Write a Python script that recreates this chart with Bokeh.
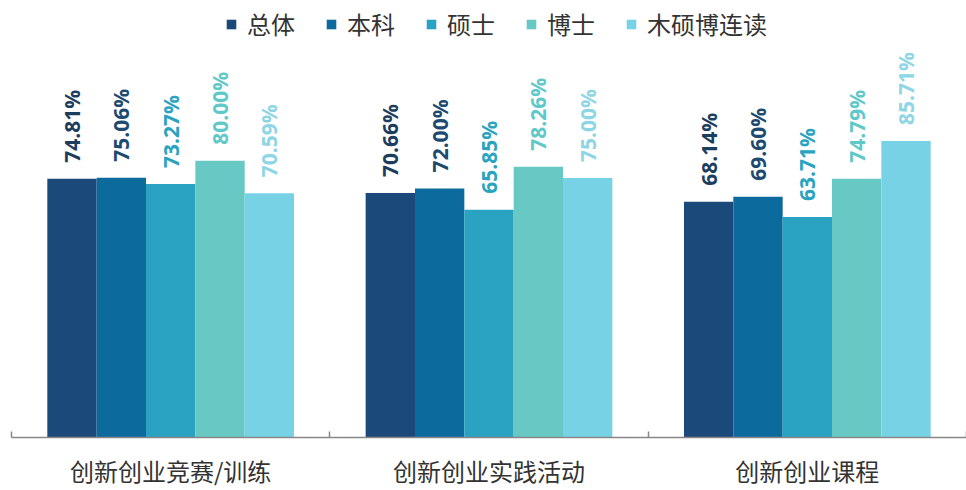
import math
from bokeh.plotting import figure
from bokeh.models import (ColumnDataSource, Range1d, FixedTicker,
                          Legend, LegendItem)
from bokeh.transform import dodge
from bokeh.core.properties import value
from bokeh.embed import file_html
from bokeh.resources import INLINE

categories = ["创新创业竞赛/训练", "创新创业实践活动", "创新创业课程"]
series_names = ["总体", "本科", "硕士", "博士", "木硕博连读"]
v_total = [74.81, 70.66, 68.14]
v_ben = [75.06, 72.00, 69.60]
v_shuo = [73.27, 65.85, 63.71]
v_bo = [80.00, 78.26, 74.79]
v_lian = [70.59, 75.00, 85.71]
series_values = [v_total, v_ben, v_shuo, v_bo, v_lian]

bar_colors = ["#1b4a7a", "#0c6a9c", "#2aa3c2", "#68c9c4", "#78d2e6"]
label_colors = ["#1c3d5e", "#1c4a70", "#2aa3c0", "#5fc8c8", "#8ed6e6"]

ncat = len(categories)
centers = [i + 0.5 for i in range(ncat)]

p = figure(width=966, height=490, x_range=Range1d(0, ncat), y_range=Range1d(0, 126.3),
           y_axis_type=None, output_backend="svg",
           toolbar_location=None, min_border_left=11, min_border_right=0,
           min_border_top=0, min_border_bottom=0, outline_line_color=None)
p.xgrid.grid_line_color = None
p.ygrid.grid_line_color = None

ax = p.xaxis[0]
ax.ticker = FixedTicker(ticks=centers, minor_ticks=list(range(ncat + 1)))
ax.major_label_overrides = {c: name for c, name in zip(centers, categories)}
ax.major_tick_line_color = None
ax.minor_tick_in = 6
ax.minor_tick_out = 0
ax.minor_tick_line_color = "#888888"
ax.minor_tick_line_width = 1.5
ax.axis_line_color = "#888888"
ax.axis_line_width = 1.5
ax.major_label_text_font = "Noto Sans CJK SC"
ax.major_label_text_font_size = "24px"
ax.major_label_text_color = "#333333"
ax.major_label_standoff = 9

bw = 0.155
offsets = [(i - 2) * bw for i in range(5)]
items = []
for i, (name, vals) in enumerate(zip(series_names, series_values)):
    src = ColumnDataSource(dict(x=centers, top=vals,
                                lab=[f"{v:.2f}%" for v in vals]))
    r = p.vbar(x=dodge("x", offsets[i]), top="top", width=bw,
               bottom=0, source=src, fill_color=bar_colors[i], line_color=None)
    p.text(x=dodge("x", offsets[i]), y="top", text="lab",
           source=src, angle=math.pi / 2, text_align="left",
           text_baseline="middle", y_offset=-16, text_font=value("Open Sans"),
           text_font_style="bold", text_font_size="21px",
           text_color=label_colors[i])
    items.append(LegendItem(label=name, renderers=[r]))

legend = Legend(items=items, orientation="horizontal", location=(214, 396),
                label_text_font="Noto Sans CJK SC", label_text_font_size="24px",
                label_text_color="#333333", glyph_width=12, glyph_height=12,
                spacing=30, label_standoff=10, background_fill_alpha=0,
                border_line_color=None, padding=0, margin=0)
p.add_layout(legend, "center")

open("out.html", "w").write(file_html(p, INLINE))
